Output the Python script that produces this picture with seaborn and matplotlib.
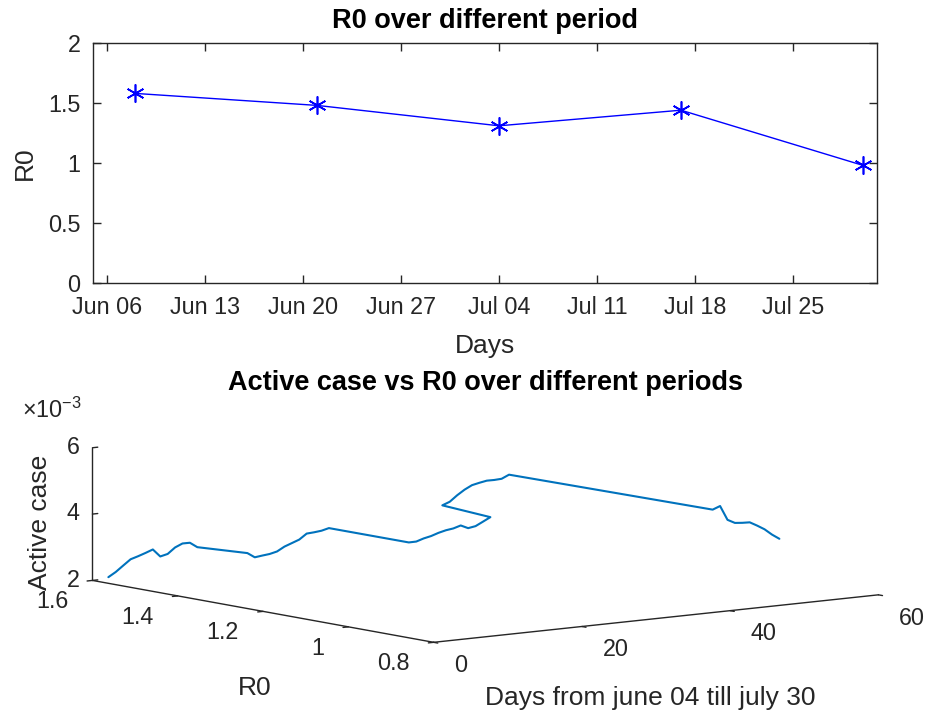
import numpy as np
import pandas as pd
import matplotlib
matplotlib.use("Agg")
import matplotlib.pyplot as plt
import matplotlib.dates as mdates
from matplotlib.ticker import FuncFormatter, FixedLocator
import seaborn as sns

# ---- data -------------------------------------------------------------
# R0 estimated for five consecutive periods, plotted at each period's reference date
period_dates = pd.to_datetime(["2020-06-08", "2020-06-21", "2020-07-04",
                               "2020-07-17", "2020-07-30"])
period_r0 = [1.58, 1.48, 1.31, 1.44, 0.98]
# number of days belonging to each period (june 04 .. july 30)
period_days = [13, 12, 12, 10, 10]

# daily active cases as a fraction of the population, in units of 1e-3
active_case_e3 = [
    2.121, 2.254, 2.423, 2.589, 2.656, 2.731, 2.813, 2.578, 2.630, 2.802, 2.898, 2.896, 2.739,
    2.770, 2.619, 2.647, 2.671, 2.723, 2.846, 2.928, 3.010, 3.167, 3.182, 3.206, 3.261,
    3.201, 3.204, 3.274, 3.322, 3.395, 3.449, 3.480, 3.546, 3.441, 3.478, 3.589, 3.701,
    3.730, 3.814, 3.986, 4.131, 4.243, 4.291, 4.331, 4.328, 4.340, 4.440,
    4.435, 4.520, 4.080, 3.963, 3.942, 3.933, 3.810, 3.675, 3.492, 3.341,
]

date_ticks = pd.date_range("2020-06-06", "2020-07-25", freq="7D")
r0_ticks = [0, 0.5, 1, 1.5, 2]
day_ticks = [0, 20, 40, 60]
r0_axis_ticks = [0.8, 1.0, 1.2, 1.4, 1.6]
active_ticks = [0.002, 0.004, 0.006]

# ---- derived series ----------------------------------------------------
days = np.arange(1, sum(period_days) + 1)
r0_daily = np.repeat(period_r0, period_days)
active_case = np.array(active_case_e3) * 1e-3
top_df = pd.DataFrame({"date": period_dates, "R0": period_r0})

# ---- style -------------------------------------------------------------
sns.set_theme(style="ticks")
plt.rcParams["font.family"] = ["Liberation Sans", "DejaVu Sans"]
plt.rcParams["mathtext.fontset"] = "custom"
plt.rcParams["mathtext.rm"] = "Liberation Sans"
plt.rcParams["mathtext.it"] = "Liberation Sans:italic"
AX_COLOR = "0.15"
TICK_FS = 16.8
LABEL_FS = 19
TITLE_FS = 19.5

W, H = 928, 718
fig = plt.figure(figsize=(W / 100, H / 100), dpi=100)

# ---- lower panel: 3-D trajectory ---------------------------------------
S = 880
ax3 = fig.add_axes([(485.4 - 0.5135 * S) / W, (196.7 - 0.5135 * S) / H, S / W, S / H],
                   projection="3d", proj_type="ortho")
ax3.set_facecolor((1, 1, 1, 0))
ax3.set_box_aspect((1, 1, 0.239), zoom=780.5 / S)
ax3.view_init(elev=8, azim=-127.5)
ax3.plot(days, r0_daily, active_case, color="#0072BD", lw=1.5)
ax3.set_xlim(0, 60)
ax3.set_ylim(0.8, 1.6)
ax3.set_zlim(0.002, 0.006)
ax3.xaxis.set_major_locator(FixedLocator(day_ticks))
ax3.yaxis.set_major_locator(FixedLocator(r0_axis_ticks))
ax3.zaxis.set_major_locator(FixedLocator(active_ticks))
ax3.xaxis.set_major_formatter(FuncFormatter(lambda v, p: f"{v:g}"))
ax3.yaxis.set_major_formatter(FuncFormatter(lambda v, p: f"{v:g}"))
ax3.zaxis.set_major_formatter(FuncFormatter(lambda v, p: f"{v * 1e3:g}"))
ax3.grid(False)
for axis in (ax3.xaxis, ax3.yaxis, ax3.zaxis):
    axis.set_pane_color((1, 1, 1, 0))
    axis.pane.set_edgecolor((1, 1, 1, 0))
    axis.line.set_color(AX_COLOR)
    axis.line.set_linewidth(1.0)
    axis._axinfo["tick"]["color"] = AX_COLOR
    axis._axinfo["tick"]["linewidth"] = {True: 1.0, False: 0.5}
for axis in (ax3.xaxis, ax3.yaxis):
    axis._axinfo["tick"]["inward_factor"] = 0.15
    axis._axinfo["tick"]["outward_factor"] = 0.0
ax3.zaxis._axinfo["tick"]["inward_factor"] = 0.0
ax3.zaxis._axinfo["tick"]["outward_factor"] = 0.15
ax3.tick_params(labelsize=TICK_FS, colors=AX_COLOR)
ax3.tick_params(axis="x", pad=12)
ax3.tick_params(axis="y", pad=10)
ax3.tick_params(axis="z", pad=0)

# axis titles of the 3-D panel, laid out horizontally as in the source figure
fig.text(650 / W, 1 - 698 / H, "Days from june 04 till july 30", ha="center", va="center",
         fontsize=LABEL_FS, color=AX_COLOR)
fig.text(255 / W, 1 - 688 / H, "R0", ha="center", va="center",
         fontsize=LABEL_FS, color=AX_COLOR)
fig.text(40 / W, 1 - 522 / H, "Active case", ha="center", va="center", rotation=90,
         fontsize=LABEL_FS, color=AX_COLOR)
fig.text(485 / W, 1 - 383 / H, "Active case vs R0 over different periods",
         ha="center", va="center", fontsize=TITLE_FS, fontweight="bold", color="black")
fig.text(22 / W, 1 - 410 / H, r"$\times 10^{-3}$", ha="left", va="center",
         fontsize=TICK_FS, color=AX_COLOR)

# ---- upper panel: R0 per period ----------------------------------------
ax1 = fig.add_axes([93 / W, 435 / H, 784 / W, 240 / H])
sns.lineplot(data=top_df, x="date", y="R0", ax=ax1, color="blue", lw=1.0,
             marker=(6, 2, 0), markersize=13, markeredgecolor="blue",
             markeredgewidth=1.2)
ax1.set_xlim(pd.Timestamp("2020-06-05"), pd.Timestamp("2020-07-31"))
ax1.set_ylim(0, 2)
ax1.set_xticks(date_ticks)
ax1.xaxis.set_major_formatter(mdates.DateFormatter("%b %d"))
ax1.set_yticks(r0_ticks)
ax1.yaxis.set_major_formatter(FuncFormatter(lambda v, p: f"{v:g}"))
for sp in ax1.spines.values():
    sp.set_visible(True)
    sp.set_color(AX_COLOR)
    sp.set_linewidth(1.0)
ax1.tick_params(direction="in", length=6, width=1.0, colors=AX_COLOR,
                labelsize=TICK_FS, top=True, right=True, pad=9)
ax1.set_xlabel("Days", fontsize=LABEL_FS, color=AX_COLOR, labelpad=11)
ax1.set_ylabel("R0", fontsize=LABEL_FS, color=AX_COLOR, labelpad=8)
ax1.set_title("R0 over different period", fontsize=TITLE_FS, fontweight="bold",
              color="black", pad=11)

# tick labels of the 3-D panel: align them like the MATLAB-style layout
fig.canvas.draw()
for lbl in ax3.xaxis.get_ticklabels():
    lbl.set_horizontalalignment("left")
for lbl in ax3.yaxis.get_ticklabels():
    lbl.set_horizontalalignment("right")
for lbl in ax3.zaxis.get_ticklabels():
    lbl.set_verticalalignment("center")

fig.savefig("out.png", dpi=100, facecolor="white")
